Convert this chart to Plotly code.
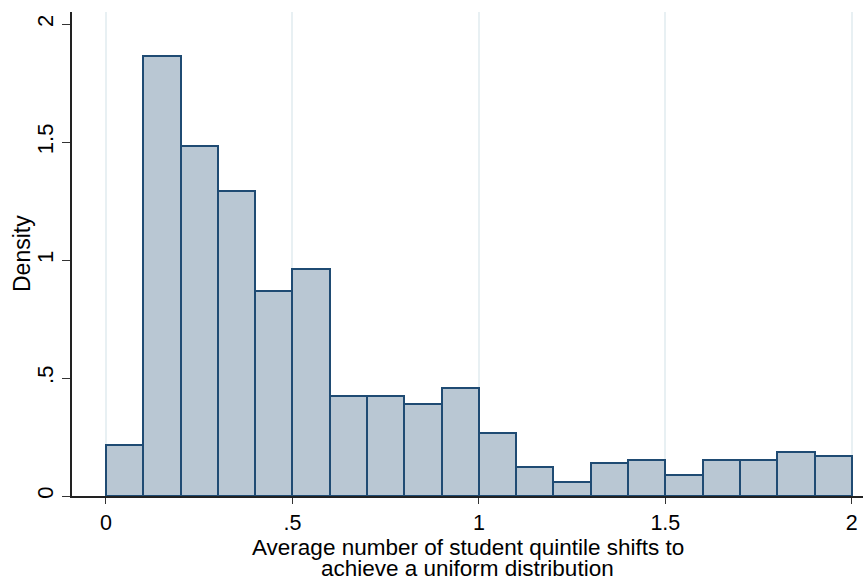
import plotly.graph_objects as go

# Histogram bins (width 0.1) and their densities
bin_left = [0.0, 0.1, 0.2, 0.3, 0.4, 0.5, 0.6, 0.7, 0.8, 0.9,
            1.0, 1.1, 1.2, 1.3, 1.4, 1.5, 1.6, 1.7, 1.8, 1.9]
bin_width = 0.1
density = [0.218, 1.865, 1.486, 1.295, 0.868, 0.963, 0.425, 0.425, 0.392, 0.456,
           0.266, 0.122, 0.058, 0.139, 0.154, 0.089, 0.154, 0.154, 0.187, 0.170]

x_ticks = [0, 0.5, 1, 1.5, 2]
x_labels = ["0", ".5", "1", "1.5", "2"]
y_ticks = [0, 0.5, 1, 1.5, 2]
y_labels = ["0", ".5", "1", "1.5", "2"]

x_title_lines = ["Average number of student quintile shifts to",
                 "achieve a uniform distribution"]
y_title = "Density"

font = "Liberation Sans, Arial, sans-serif"

fig = go.Figure(
    go.Bar(
        x=[b + bin_width / 2 for b in bin_left],
        y=density,
        width=bin_width,
        marker=dict(color="#b9c7d3", line=dict(color="#1f4b73", width=2)),
        hoverinfo="x+y",
    )
)

fig.update_layout(
    width=864,
    height=579,
    paper_bgcolor="white",
    plot_bgcolor="white",
    margin=dict(l=72, r=1, t=12, b=83),
    font=dict(family=font, size=22, color="black"),
    showlegend=False,
    bargap=0,
)

fig.update_xaxes(
    range=[-0.091, 2.03],
    tickvals=x_ticks,
    ticktext=x_labels,
    ticks="outside",
    ticklen=6,
    tickcolor="#333333",
    showline=True,
    linecolor="#222222",
    linewidth=1.5,
    showgrid=True,
    gridcolor="#e8f0f3",
    gridwidth=1.5,
    zeroline=False,
    tickfont=dict(size=21.5),
    automargin=False,
)

fig.update_yaxes(
    range=[0, 2.052],
    tickvals=y_ticks,
    ticktext=y_labels,
    tickangle=-90,
    ticks="outside",
    ticklen=8,
    tickcolor="#333333",
    showline=True,
    linecolor="#222222",
    linewidth=1.5,
    showgrid=False,
    zeroline=False,
    tickfont=dict(size=22),
    automargin=False,
)

# Axis titles placed as annotations so the two x-title lines sit close together
for text, ypos in zip(x_title_lines, [-0.1064, -0.1508]):
    fig.add_annotation(
        text=text, xref="paper", yref="paper", x=0.5, y=ypos,
        xanchor="center", yanchor="middle", showarrow=False,
        borderpad=0, font=dict(size=22.5),
    )
fig.add_annotation(
    text=y_title, xref="paper", yref="paper", x=-0.0632, y=0.5,
    xanchor="center", yanchor="middle", textangle=-90, showarrow=False,
    font=dict(size=23),
)

fig.write_html("out.html")
